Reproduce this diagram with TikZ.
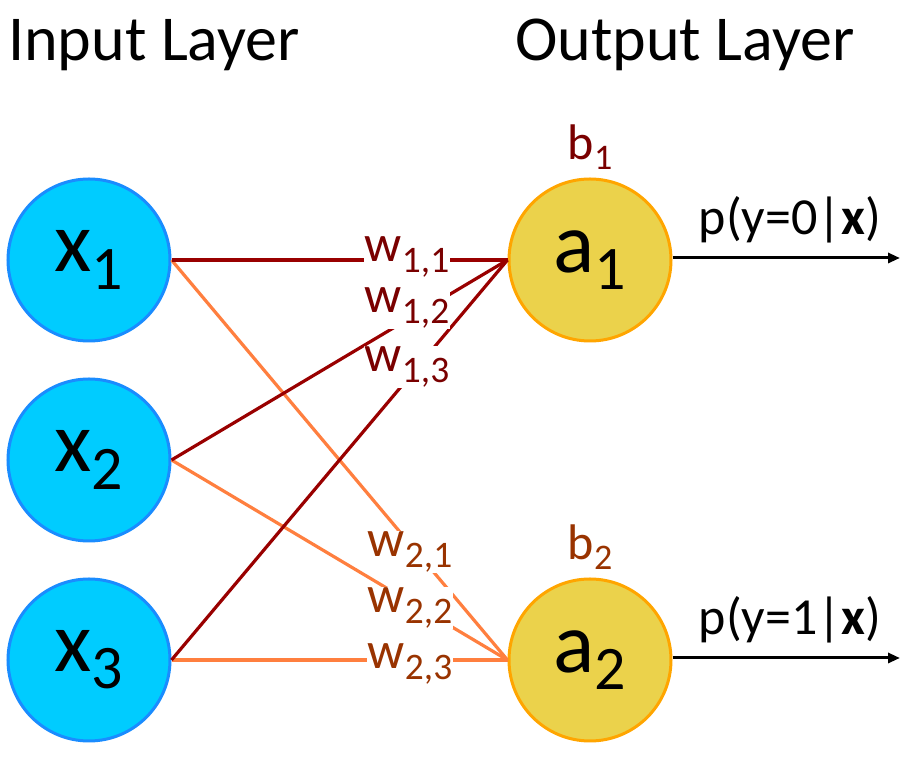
\documentclass[tikz,border=0pt]{standalone}
\usepackage{fontspec}
\setmainfont{Carlito}
\usepackage{graphicx}
\usetikzlibrary{arrows.meta}

\definecolor{inFill}{HTML}{00CCFF}
\definecolor{inLine}{HTML}{1A8CFF}
\definecolor{outFill}{HTML}{EBD24B}
\definecolor{outLine}{HTML}{FFA500}
\definecolor{oneLine}{HTML}{990000}
\definecolor{oneText}{HTML}{7A0000}
\definecolor{twoLine}{HTML}{FF7F3F}
\definecolor{twoText}{HTML}{993300}

% lowered, smaller subscript
\newcommand{\lo}[1]{\raisebox{-0.2em}{\scalebox{0.72}{#1}}}

\begin{document}
\begin{tikzpicture}[
  x=0.5pt,y=-0.5pt,
  >={Triangle[length=6pt,width=5pt]},
  input/.style={circle,draw=inLine,fill=inFill,line width=1.5pt,minimum size=81pt,inner sep=0pt,font=\fontsize{43}{48}\selectfont},
  output/.style={circle,draw=outLine,fill=outFill,line width=1.5pt,minimum size=81pt,inner sep=0pt,font=\fontsize{43}{48}\selectfont},
  title/.style={font=\fontsize{32}{38}\selectfont},
  weight/.style={fill=white,inner sep=0.5pt,font=\fontsize{26}{30}\selectfont},
  bias/.style={font=\fontsize{25}{30}\selectfont},
  prob/.style={font=\fontsize{26}{31}\selectfont},
  toA/.style={draw=oneLine,line width=1.6pt},
  toB/.style={draw=twoLine,line width=1.6pt},
  outarrow/.style={->,line width=1.5pt}
]
\useasboundingbox (0,0) rectangle (918,774);

\node[title] (tin) at (154,45) {Input Layer};
\node[title] (tout) at (685,45) {Output Layer};

\node[input] (x1) at (89,260) {x\lo{1}};
\node[input] (x2) at (89,460) {x\lo{2}};
\node[input] (x3) at (89,660) {x\lo{3}};

\node[output] (a1) at (590,260) {a\lo{1}};
\node[output] (a2) at (590,660) {a\lo{2}};

\node[bias,text=oneText] (b1) at (590,147) {b\lo{1}};
\node[bias,text=twoText] (b2) at (590,547) {b\lo{2}};

\foreach \i in {1,2,3}{
  \draw[toB] (x\i.east) -- (a2.west);
}
\foreach \i in {1,2,3}{
  \draw[toA] (x\i.east) -- (a1.west);
}

\node[weight,text=oneText] (w11) at (407,257) {w\lo{1,1}};
\node[weight,text=oneText] (w12) at (407,308) {w\lo{1,2}};
\node[weight,text=oneText] (w13) at (407,367) {w\lo{1,3}};
\node[weight,text=twoText] (w21) at (410,552) {w\lo{2,1}};
\node[weight,text=twoText] (w22) at (410,608) {w\lo{2,2}};
\node[weight,text=twoText] (w23) at (410,664) {w\lo{2,3}};

\coordinate (e1) at (900,258);
\coordinate (e2) at (900,658);
\draw[outarrow] (a1.east |- e1) -- (e1);
\draw[outarrow] (a2.east |- e2) -- (e2);
\node[prob] (p1) at (790,220) {p(y=0|\textbf{x})};
\node[prob] (p2) at (790,620) {p(y=1|\textbf{x})};
\end{tikzpicture}
\end{document}
